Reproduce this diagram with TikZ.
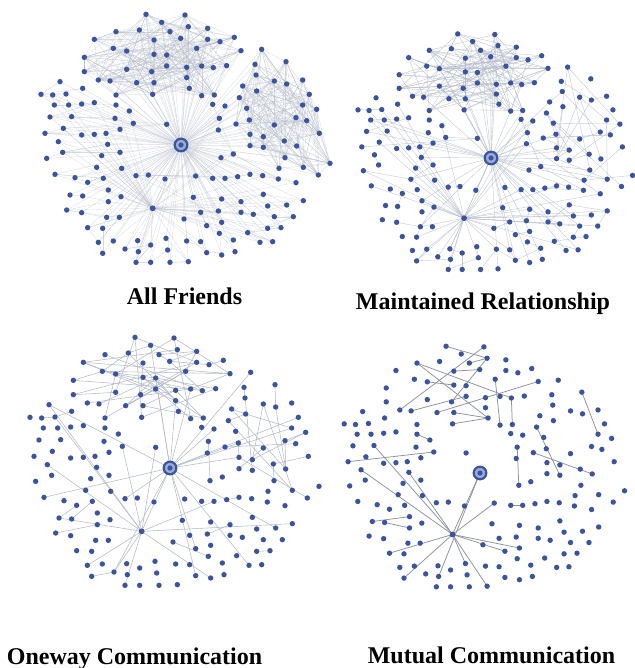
\documentclass[tikz,border=0pt]{standalone}
\usepackage{fontspec}
\setmainfont{Liberation Serif}
\definecolor{dotblue}{HTML}{3B549E}
\definecolor{egofill}{HTML}{9AABD6}
\definecolor{linkgrey}{HTML}{B4BAC8}
\definecolor{linkdark}{HTML}{8C919E}

% Layout of the friends around the ego, in 1/3 px, ego sitting at (453,420).
% Top cluster: 1..39
\newcommand\toplist{348/28,465/30,395/52,475/65,533/70,258/80,328/75,420/80,193/103,372/105,452/100,533/103,570/110,613/97,250/130,290/138,372/148,410/150,500/130,633/137,163/157,163/200,290/193,365/200,410/183,470/187,515/183,550/188,590/182,205/225,240/228,320/233,372/233,470/218,478/250,368/268,258/270,515/272,553/270}
% Right cluster: 40..70
\newcommand\rightlist{695/133,768/170,675/178,678/210,733/228,770/237,818/225,638/243,680/258,838/268,628/278,650/310,818/300,860/313,733/360,798/338,830/347,658/345,618/357,660/388,700/395,868/385,763/408,800/423,660/422,700/427,765/458,820/487,747/490,900/475,865/510}
% Everybody else: 71..173
\newcommand\restlist{90/230,158/250,33/268,68/270,108/267,73/300,116/300,155/297,193/293,258/300,298/318,60/336,125/335,255/340,310/355,410/358,100/370,45/385,155/390,193/388,228/385,270/373,85/410,233/418,98/442,215/452,270/442,50/460,200/487,275/490,75/508,135/518,173/532,220/520,120/570,158/573,235/555,235/590,273/575,110/615,155/623,230/637,268/637,173/668,218/670,205/712,250/708,218/745,285/732,323/707,325/740,362/720,318/772,362/772,408/700,413/735,420/772,475/770,470/708,512/710,530/743,575/750,615/740,610/705,568/685,575/652,530/662,462/642,512/622,490/577,565/618,575/582,633/590,633/622,670/628,700/568,713/603,770/600,820/587,733/635,790/635,713/670,753/668,653/683,690/712,728/710,318/512,355/510,405/522,497/513,548/520,585/520,623/515,660/508,698/512,745/522,798/533,573/458,610/447,565/375,568/340,548/298,585/303}

% #1,#2: ego position, #3: scale
\newcommand\placepeople[3]{%
  \coordinate (ego) at (#1,#2);
  \coordinate (hub) at ({#1+#3*(368-453)/3},{#2+#3*(610-420)/3});
  \foreach \x/\y [count=\i] in \toplist
    {\coordinate (p\i) at ({#1+#3*(\x-453)/3},{#2+#3*(\y-420)/3});}
  \foreach \x/\y [count=\i from 40] in \rightlist
    {\coordinate (p\i) at ({#1+#3*(\x-453)/3},{#2+#3*(\y-420)/3});}
  \foreach \x/\y [count=\i from 71] in \restlist
    {\coordinate (p\i) at ({#1+#3*(\x-453)/3},{#2+#3*(\y-420)/3});}
}

% links from the ego, with probability #1
\newcommand\linkego[1]{%
  \foreach \i in {1,...,173}{%
    \pgfmathtruncatemacro\hit{rnd<#1}%
    \ifnum\hit=1 \draw (ego) -- (p\i);\fi}}
% random links inside the group #1..#2: #3 tries per person, probability #4
\newcommand\linkgroup[4]{%
  \foreach \i in {#1,...,#2}{%
    \foreach \k in {1,...,#3}{%
      \pgfmathtruncatemacro\hit{rnd<#4}%
      \ifnum\hit=1 \pgfmathtruncatemacro\j{random(#1,#2)}\draw (p\i) -- (p\j);\fi}}}
% links from the second hub to people #1..#2, probability #3
\newcommand\linkhub[3]{%
  \foreach \i in {#1,...,#2}{%
    \pgfmathtruncatemacro\hit{rnd<#3}%
    \ifnum\hit=1 \draw (hub) -- (p\i);\fi}}
% links between neighbours: #1 tries, probability #2
\newcommand\linknear[2]{%
  \foreach \i in {71,...,170}{%
    \foreach \k in {1,...,#1}{%
      \pgfmathtruncatemacro\hit{rnd<#2}%
      \ifnum\hit=1 \pgfmathtruncatemacro\j{\i+random(1,3)}\draw (p\i) -- (p\j);\fi}}}

\newcommand\drawpeople{%
  \foreach \i in {1,...,173}{\fill[dotblue] (p\i) circle (2.7);}
  \fill[dotblue] (hub) circle (2.9);
  \draw[dotblue, line width=2.2pt, fill=egofill] (ego) circle (6.3);
  \fill[dotblue] (ego) circle (2.6);
}

\tikzset{
  linkA/.style={color=linkgrey, line width=0.3pt, opacity=0.55},
  linkB/.style={color=linkgrey, line width=0.4pt, opacity=0.8},
  linkC/.style={color=linkgrey, line width=0.55pt},
  linkD/.style={color=linkdark, line width=0.75pt},
  caption/.style={anchor=base, font=\fontsize{24}{28}\selectfont\bfseries, inner sep=0pt}
}

\begin{document}
\begin{tikzpicture}[x=1pt, y=-1pt]
\useasboundingbox (0,0) rectangle (634,668);

% All friends
\placepeople{181}{145}{1.0}
\pgfmathsetseed{101}
\begin{scope}[linkA]
  \linkego{0.92}
  \linkgroup{1}{39}{8}{1}
  \linkgroup{40}{70}{8}{1}
  \linkhub{71}{173}{0.5}
  \linknear{2}{0.6}
  \draw (ego) -- (hub);
\end{scope}
\drawpeople

% Maintained relationship
\placepeople{491}{158}{0.95}
\pgfmathsetseed{202}
\begin{scope}[linkB]
  \linkego{0.3}
  \linkgroup{1}{39}{4}{0.8}
  \linkgroup{40}{70}{2}{0.5}
  \linkhub{71}{173}{0.3}
  \linknear{1}{0.3}
  \draw (ego) -- (hub);
\end{scope}
\drawpeople

% Oneway communication
\placepeople{170}{468}{1.0}
\pgfmathsetseed{303}
\begin{scope}[linkC]
  \linkego{0.12}
  \linkgroup{1}{39}{2}{0.6}
  \linkgroup{40}{70}{1}{0.5}
  \linkhub{71}{173}{0.22}
  \linknear{1}{0.14}
  \draw (ego) -- (hub);
\end{scope}
\drawpeople

% Mutual communication
\placepeople{480}{473}{0.97}
\pgfmathsetseed{404}
\begin{scope}[linkD]
  \linkego{0.015}
  \linkgroup{1}{39}{1}{0.45}
  \linkgroup{40}{70}{1}{0.15}
  \linkhub{71}{173}{0.09}
  \linknear{1}{0.08}
  \draw (ego) -- (hub);
\end{scope}
\drawpeople

\node[caption] (capA) at (184.5,304) {All Friends};
\node[caption] (capB) at (483,309) {Maintained Relationship};
\node[caption] (capC) at (134.5,664) {Oneway Communication};
\node[caption] (capD) at (491.5,663) {Mutual Communication};
\end{tikzpicture}
\end{document}
